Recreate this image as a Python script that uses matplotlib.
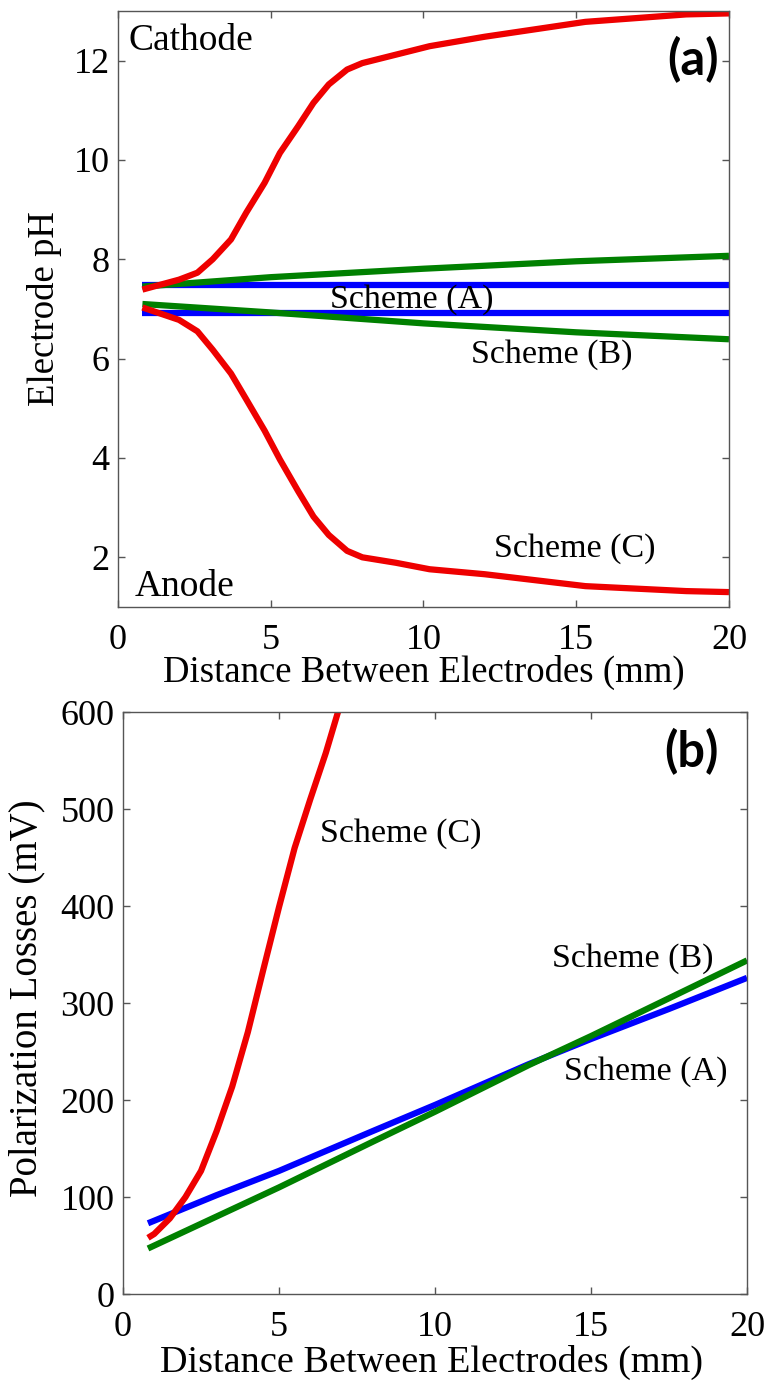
import matplotlib
matplotlib.use("Agg")
import matplotlib.pyplot as plt

# ---------------------------------------------------------
# Panel (a): electrode pH vs distance
# ---------------------------------------------------------
x_ph = [0.8, 2.0, 2.6, 3.1, 3.7, 4.2, 4.8, 5.3, 5.9, 6.4, 6.9, 7.5, 8.0,
        9.1, 10.2, 12.0, 15.3, 18.6, 20.0]
ph_cathode_c = [7.39, 7.59, 7.73, 8.00, 8.40, 8.94, 9.54, 10.14, 10.68, 11.15, 11.52, 11.82, 11.95,
                12.12, 12.29, 12.48, 12.78, 12.93, 12.95]
ph_anode_c = [7.03, 6.78, 6.55, 6.18, 5.70, 5.18, 4.55, 3.97, 3.33, 2.82, 2.45, 2.13, 2.00,
              1.89, 1.76, 1.66, 1.42, 1.32, 1.30]
x_flat = [0.8, 20.0]
ph_cathode_a = [7.48, 7.48]
ph_anode_a = [6.91, 6.91]
x_b = [0.8, 5.0, 10.0, 15.0, 20.0]
ph_cathode_b = [7.45, 7.64, 7.81, 7.96, 8.07]
ph_anode_b = [7.10, 6.93, 6.71, 6.53, 6.39]

# ---------------------------------------------------------
# Panel (b): polarization losses vs distance
# ---------------------------------------------------------
x_loss_c = [0.8, 1.0, 1.5, 2.0, 2.5, 3.0, 3.5, 4.0, 4.5, 5.0, 5.5, 6.0, 6.5, 7.0, 7.2]
loss_c = [58, 62, 78, 100, 127, 168, 214, 270, 335, 399, 460, 510, 558, 612, 630]
x_loss = [0.8, 3.0, 5.0, 8.0, 10.0, 13.0, 15.0, 17.5, 20.0]
loss_a = [73, 102, 127, 168, 195, 237, 263, 294, 326]
loss_b = [47, 80, 110, 157, 188, 236, 266, 305, 344]

RED = "#ee0000"
BLUE = "#0000ff"
GREEN = "#008000"
LW = 4.5

plt.rcParams["font.family"] = "Liberation Serif"

fig = plt.figure(figsize=(7.68, 13.83), dpi=100)
ax1 = fig.add_axes([0.1536, 0.5611, 0.7956, 0.4310])
ax2 = fig.add_axes([0.1602, 0.0643, 0.8125, 0.4208])


def style_axes(ax):
    for s in ax.spines.values():
        s.set_color("#555555")
        s.set_linewidth(1.0)
    ax.tick_params(direction="in", top=True, right=True, length=5, width=1,
                   color="#555555", labelsize=26)
    ax.tick_params(axis="x", pad=12)
    ax.tick_params(axis="y", pad=6)


def line(ax, x, y, c):
    ax.plot(x, y, color=c, lw=LW, solid_capstyle="butt", solid_joinstyle="round")


# panel (a)
line(ax1, x_flat, ph_cathode_a, BLUE)
line(ax1, x_flat, ph_anode_a, BLUE)
line(ax1, x_b, ph_cathode_b, GREEN)
line(ax1, x_b, ph_anode_b, GREEN)
line(ax1, x_ph, ph_cathode_c, RED)
line(ax1, x_ph, ph_anode_c, RED)
ax1.set_xlim(0, 20)
ax1.set_ylim(1, 13)
ax1.set_xticks([0, 5, 10, 15, 20])
ax1.set_yticks([2, 4, 6, 8, 10, 12])
style_axes(ax1)
ax1.set_xlabel("Distance Between Electrodes (mm)", fontsize=26.5)
ax1.set_ylabel("Electrode pH", fontsize=26.5)
ax1.xaxis.set_label_coords(0.5, -0.08)
ax1.yaxis.set_label_coords(-0.092, 0.5)

ax1.text(0.33, 12.22, "Cathode", fontsize=27, va="baseline")
ax1.text(0.56, 1.215, "Anode", fontsize=27, va="baseline")
ax1.text(6.94, 7.03, "Scheme (A)", fontsize=24.5, va="baseline")
ax1.text(11.56, 5.92, "Scheme (B)", fontsize=24.5, va="baseline")
ax1.text(12.31, 2.02, "Scheme (C)", fontsize=24.5, va="baseline")
ax1.text(19.67, 12.02, "(a)", fontsize=35, fontweight="bold", family="Lato",
         ha="right", va="center")

# panel (b)
line(ax2, x_loss, loss_a, BLUE)
line(ax2, x_loss, loss_b, GREEN)
line(ax2, x_loss_c, loss_c, RED)
ax2.set_xlim(0, 20)
ax2.set_ylim(0, 600)
ax2.set_xticks([0, 5, 10, 15, 20])
ax2.set_yticks([0, 100, 200, 300, 400, 500, 600])
style_axes(ax2)
ax2.set_xlabel("Distance Between Electrodes (mm)", fontsize=27.5)
ax2.set_ylabel("Polarization Losses (mV)", fontsize=28)
ax2.xaxis.set_label_coords(0.494, -0.088)
ax2.yaxis.set_label_coords(-0.124, 0.509)

ax2.text(6.31, 466, "Scheme (C)", fontsize=24.5, va="baseline")
ax2.text(13.75, 337, "Scheme (B)", fontsize=24.5, va="baseline")
ax2.text(14.13, 220.6, "Scheme (A)", fontsize=24.5, va="baseline")
ax2.text(19.1, 559, "(b)", fontsize=35, fontweight="bold", family="Lato",
         ha="right", va="center")

fig.savefig("out.png", dpi=100)
